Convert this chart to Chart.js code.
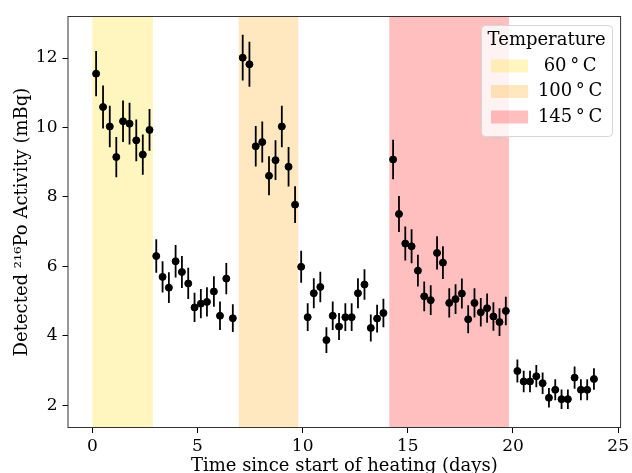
<!DOCTYPE html>
<html lang="en">
<head>
    <meta charset="UTF-8">
    <title>216Po activity during heating</title>
    <script src="https://cdn.jsdelivr.net/npm/chart.js"></script>
    <style>
        html, body {
            margin: 0;
            padding: 0;
            background: #fff;
        }
    </style>
</head>
<body>
    <canvas id="poChart" width="632" height="473"></canvas>

    <script>
        // time since start of heating (days)
        const days = [0.18, 0.51, 0.83, 1.14, 1.46, 1.77, 2.09, 2.40, 2.72,
            3.04, 3.34, 3.64, 3.96, 4.26, 4.56, 4.86, 5.16, 5.45, 5.78, 6.07, 6.37, 6.68,
            7.15, 7.47, 7.77, 8.08, 8.40, 8.71, 9.01, 9.33, 9.64,
            9.93, 10.24, 10.53, 10.84, 11.13, 11.43, 11.73, 12.03, 12.33, 12.63, 12.94, 13.24, 13.54, 13.84,
            14.30, 14.58, 14.88, 15.18, 15.48, 15.78, 16.09, 16.39, 16.67, 16.97, 17.27, 17.57, 17.87, 18.17, 18.47, 18.77, 19.07, 19.36, 19.66,
            20.21, 20.51, 20.81, 21.11, 21.41, 21.71, 22.01, 22.31, 22.61, 22.93, 23.23, 23.53, 23.85];

        // detected 216Po activity (mBq)
        const activity = [11.55, 10.59, 10.03, 9.15, 10.18, 10.11, 9.63, 9.22, 9.93,
            6.30, 5.70, 5.39, 6.15, 5.84, 5.51, 4.82, 4.93, 4.98, 5.28, 4.58, 5.65, 4.51,
            12.01, 11.82, 9.46, 9.58, 8.61, 9.06, 10.03, 8.87, 7.78,
            5.99, 4.54, 5.23, 5.41, 3.88, 4.58, 4.27, 4.54, 4.54, 5.23, 5.48, 4.23, 4.50, 4.66,
            9.08, 7.51, 6.66, 6.58, 5.88, 5.14, 5.03, 6.39, 6.11, 4.95, 5.06, 5.22, 4.48, 4.95, 4.68, 4.80, 4.56, 4.40, 4.72,
            2.99, 2.69, 2.69, 2.84, 2.64, 2.22, 2.45, 2.18, 2.18, 2.80, 2.45, 2.45, 2.76];

        // 1 sigma errors (mBq)
        const errors = [0.65, 0.62, 0.60, 0.58, 0.60, 0.60, 0.60, 0.58, 0.60,
            0.48, 0.45, 0.44, 0.47, 0.46, 0.45, 0.42, 0.42, 0.42, 0.44, 0.41, 0.45, 0.40,
            0.66, 0.65, 0.58, 0.59, 0.56, 0.57, 0.60, 0.57, 0.53,
            0.46, 0.40, 0.43, 0.44, 0.37, 0.41, 0.39, 0.40, 0.40, 0.43, 0.44, 0.39, 0.40, 0.41,
            0.57, 0.52, 0.49, 0.49, 0.46, 0.43, 0.43, 0.48, 0.47, 0.42, 0.43, 0.43, 0.40, 0.42, 0.41, 0.42, 0.41, 0.40, 0.41,
            0.33, 0.31, 0.31, 0.32, 0.31, 0.28, 0.30, 0.28, 0.28, 0.32, 0.30, 0.30, 0.31];

        // heating periods
        const bandStart = [0, 6.96, 14.12];
        const bandEnd = [2.88, 9.79, 19.81];
        const bandLabels = ['60\u2009°\u2009C', '100\u2009°\u2009C', '145\u2009°\u2009C'];
        const bandColors = ['rgba(255,215,0,0.25)', 'rgba(255,165,0,0.25)', 'rgba(255,0,0,0.25)'];

        const xTicks = [0, 5, 10, 15, 20, 25];
        const yTicks = [2, 4, 6, 8, 10, 12];

        const FONT = 'DejaVu Serif';

        // shaded bands + error bars under the points, frame and legend on top
        const bandsAndErrors = {
            id: 'bandsAndErrors',
            beforeDatasetsDraw(chart) {
                const {ctx, chartArea, scales: {x, y}} = chart;
                ctx.save();
                ctx.beginPath();
                ctx.rect(chartArea.left, chartArea.top, chartArea.right - chartArea.left, chartArea.bottom - chartArea.top);
                ctx.clip();
                for (let i = 0; i < bandStart.length; i++) {
                    const x0 = x.getPixelForValue(bandStart[i]);
                    const x1 = x.getPixelForValue(bandEnd[i]);
                    ctx.fillStyle = bandColors[i];
                    ctx.fillRect(x0, chartArea.top, x1 - x0, chartArea.bottom - chartArea.top);
                }
                ctx.strokeStyle = '#000';
                ctx.lineWidth = 1.8;
                for (let i = 0; i < days.length; i++) {
                    const px = x.getPixelForValue(days[i]);
                    ctx.beginPath();
                    ctx.moveTo(px, y.getPixelForValue(activity[i] - errors[i]));
                    ctx.lineTo(px, y.getPixelForValue(activity[i] + errors[i]));
                    ctx.stroke();
                }
                ctx.restore();
            },
            afterDatasetsDraw(chart) {
                const {ctx, chartArea} = chart;
                ctx.save();
                ctx.strokeStyle = '#333';
                ctx.lineWidth = 1;
                ctx.strokeRect(chartArea.left + 0.5, chartArea.top + 0.5,
                    chartArea.right - chartArea.left - 1, chartArea.bottom - chartArea.top - 1);

                // legend box, top right
                const w = 131, h = 111;
                const lx = chartArea.right - 9 - w;
                const ly = chartArea.top + 9;
                ctx.fillStyle = 'rgba(255,255,255,0.8)';
                ctx.strokeStyle = '#d6d6d6';
                ctx.beginPath();
                ctx.roundRect(lx + 0.5, ly + 0.5, w, h, 4);
                ctx.fill();
                ctx.stroke();

                ctx.fillStyle = '#000';
                ctx.font = '18px "' + FONT + '"';
                ctx.textAlign = 'center';
                ctx.textBaseline = 'middle';
                ctx.fillText('Temperature', lx + w / 2, ly + 15);
                for (let i = 0; i < bandLabels.length; i++) {
                    const cy = ly + 41 + i * 25.5;
                    ctx.fillStyle = bandColors[i];
                    ctx.fillRect(lx + 10, cy - 6.5, 37, 13);
                    ctx.fillStyle = '#000';
                    ctx.fillText(bandLabels[i], lx + 89, cy);
                }
                ctx.restore();
            }
        };

        const ctx = document.getElementById('poChart').getContext('2d');
        new Chart(ctx, {
            type: 'scatter',
            data: {
                datasets: [{
                    label: 'Activity',
                    data: days.map((d, i) => ({x: d, y: activity[i]})),
                    backgroundColor: '#000',
                    borderColor: '#000',
                    pointRadius: 3.5,
                    pointHoverRadius: 3.5
                }]
            },
            options: {
                responsive: false,
                animation: false,
                layout: {padding: {top: 16, right: 9.5, left: 0, bottom: 0}},
                plugins: {
                    legend: {display: false},
                    tooltip: {enabled: false}
                },
                scales: {
                    x: {
                        type: 'linear',
                        min: -1.18,
                        max: 25.14,
                        afterFit: s => { s.height = 45; },
                        afterBuildTicks: s => { s.ticks = xTicks.map(v => ({value: v})); },
                        grid: {drawOnChartArea: false, drawTicks: true, tickLength: 5, color: '#000'},
                        border: {display: false},
                        ticks: {color: '#000', padding: 3, font: {family: FONT, size: 17}},
                        title: {
                            display: true,
                            text: 'Time since start of heating (days)',
                            color: '#000',
                            padding: {top: 0, bottom: -4},
                            font: {family: FONT, size: 18}
                        }
                    },
                    y: {
                        min: 1.35,
                        max: 13.21,
                        afterFit: s => { s.width = 67.5; },
                        afterBuildTicks: s => { s.ticks = yTicks.map(v => ({value: v})); },
                        grid: {drawOnChartArea: false, drawTicks: true, tickLength: 5, color: '#000'},
                        border: {display: false},
                        ticks: {color: '#000', padding: 5, font: {family: FONT, size: 17}},
                        title: {
                            display: true,
                            text: 'Detected ²¹⁶Po Activity (mBq)',
                            color: '#000',
                            padding: {top: 12, bottom: 0},
                            font: {family: FONT, size: 18}
                        }
                    }
                }
            },
            plugins: [bandsAndErrors]
        });
    </script>
</body>
</html>
